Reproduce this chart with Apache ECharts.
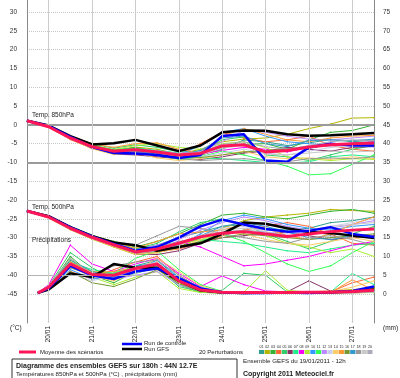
<!DOCTYPE html>
<html>
<head>
<meta charset="utf-8">
<script src="https://cdn.jsdelivr.net/npm/echarts@6/dist/echarts.min.js"></script>
<style>
html, body { margin: 0; padding: 0; background: #fff; }
#chart { width: 400px; height: 378px; }
</style>
</head>
<body>
<div id="chart"></div>
<script>
// echeances (heures depuis le run du 19/01 12h)
var HOURS = [0, 12, 24, 36, 48, 60, 72, 84, 96, 108, 120, 132, 144, 156, 168, 180, 192];
var HOURS_PRECIP = [6, 12, 24, 36, 48, 60, 72, 84, 96, 108, 120, 132, 144, 156, 168, 180, 192];
var DAY_HOURS = [12, 36, 60, 84, 108, 132, 156, 180];
var DAY_LABELS = ["20/01", "21/01", "22/01", "23/01", "24/01", "25/01", "26/01", "27/01"];
var TEMP_TICKS = [-45, -40, -35, -30, -25, -20, -15, -10, -5, 0, 5, 10, 15, 20, 25, 30];
var MM_TICKS = [0, 5, 10, 15, 20, 25, 30, 35, 40, 45, 50, 55, 60, 65, 70, 75];

var PERT_COLORS = ["#2f9f8f", "#b5b500", "#33b333", "#ff6633", "#33cc66", "#883366", "#22ee88", "#ff00ff", "#aaee33", "#3399ff",
                   "#33ff55", "#bb88ff", "#ccccee", "#ffcc66", "#ff9933", "#779933", "#3399cc", "#999999", "#c8c8c8", "#aaaabb"];

// Temp. 850hPa
var MEAN_850 = [1.1, -0.5, -3.5, -5.8, -7.0, -6.6, -7.2, -8.0, -7.6, -5.6, -5.3, -7.2, -6.8, -5.9, -5.3, -5.0, -4.8];
var CTRL_850 = [1.1, -0.3, -3.2, -5.9, -7.5, -7.6, -8.0, -8.8, -8.0, -3.0, -2.5, -9.5, -9.8, -6.0, -5.0, -5.5, -5.5];
var GFS_850 = [1.1, -0.2, -3.0, -5.2, -4.9, -4.0, -5.5, -7.0, -5.5, -2.0, -1.5, -1.6, -2.5, -2.9, -2.8, -2.5, -2.2];
var PERT_850 = [
    [1.1, -0.3, -3.2, -5.5, -7.3, -7.0, -7.8, -8.6, -8.0, -6.5, -4.0, -4.5, -5.5, -4.8, -3.9, -4.5, -4.0],
    [1.1, -0.6, -3.8, -6.0, -6.8, -5.9, -6.5, -7.8, -6.5, -4.5, -3.8, -3.5, -2.5, -1.0, 0.2, 1.8, 1.9],
    [1.1, -0.4, -3.0, -5.2, -6.9, -6.0, -7.1, -8.5, -8.2, -6.0, -5.2, -5.0, -6.5, -4.0, -2.0, -1.5, 0.0],
    [1.1, -0.7, -3.9, -6.3, -7.5, -7.2, -8.1, -8.3, -5.0, -2.0, -3.5, -4.5, -4.0, -3.0, -5.5, -6.5, -7.0],
    [1.1, -0.2, -3.1, -5.0, -6.2, -5.3, -6.0, -7.2, -7.0, -4.0, -3.2, -8.0, -8.5, -9.5, -8.0, -6.5, -5.5],
    [1.1, -0.5, -3.6, -6.2, -7.8, -8.0, -8.5, -9.0, -9.2, -8.5, -7.5, -7.0, -6.0, -6.5, -7.0, -6.0, -5.8],
    [1.1, -0.4, -3.4, -5.6, -6.5, -6.2, -6.8, -7.5, -8.8, -9.0, -9.5, -10.0, -10.2, -9.8, -8.5, -8.0, -8.5],
    [1.1, -0.6, -3.7, -6.1, -7.4, -7.3, -7.0, -8.2, -7.8, -6.8, -6.0, -6.5, -7.2, -6.0, -5.5, -5.0, -4.5],
    [1.1, -0.3, -3.3, -5.4, -6.6, -5.5, -5.0, -6.0, -6.5, -5.0, -4.5, -6.0, -8.5, -9.0, -9.5, -9.0, -9.2],
    [1.1, -0.5, -3.5, -5.9, -7.1, -6.8, -7.5, -8.0, -5.5, -2.0, -1.0, -3.0, -4.5, -5.0, -5.5, -4.8, -4.5],
    [1.1, -0.4, -3.6, -6.0, -7.6, -7.4, -8.0, -9.2, -8.5, -7.0, -8.0, -9.5, -11.0, -13.3, -13.0, -10.5, -8.0],
    [1.1, -0.6, -3.4, -5.7, -7.0, -6.4, -6.9, -7.6, -7.0, -4.5, -1.5, -2.0, -3.0, -3.8, -4.0, -3.5, -3.0],
    [1.1, -0.5, -3.5, -5.8, -7.2, -6.9, -7.4, -8.0, -8.5, -7.5, -6.5, -7.5, -8.0, -7.0, -6.0, -5.5, -6.0],
    [1.1, -0.7, -3.8, -6.4, -7.9, -7.5, -8.8, -9.5, -9.0, -8.0, -7.0, -8.5, -9.0, -8.8, -9.2, -8.5, -9.0],
    [1.1, -0.3, -3.0, -5.0, -6.0, -5.0, -4.8, -6.5, -7.5, -3.0, -1.0, -2.5, -4.0, -4.5, -3.5, -3.0, -2.8],
    [1.1, -0.4, -3.3, -5.5, -6.7, -6.3, -7.2, -8.4, -8.7, -8.0, -7.2, -6.8, -6.5, -6.0, -5.5, -5.0, -5.5],
    [1.1, -0.6, -3.7, -6.1, -7.3, -7.0, -7.6, -8.1, -6.8, -3.5, -3.0, -5.0, -5.8, -4.2, -4.0, -4.2, -3.8],
    [1.1, -0.5, -3.5, -5.9, -7.5, -7.3, -8.2, -9.0, -9.5, -9.2, -9.0, -9.5, -9.8, -9.0, -8.8, -9.0, -8.5],
    [1.1, -0.4, -3.4, -5.7, -6.9, -6.6, -7.3, -8.3, -8.0, -6.2, -5.5, -7.8, -8.0, -7.5, -7.0, -7.2, -7.0],
    [1.1, -0.6, -3.6, -6.0, -7.2, -6.7, -7.0, -7.7, -7.2, -5.2, -4.5, -5.8, -6.5, -5.5, -4.5, -4.0, -4.2]
];

// Temp. 500hPa
var MEAN_500 = [-22.9, -24.5, -27.5, -29.9, -31.9, -33.8, -33.0, -31.5, -29.8, -28.8, -28.4, -29.0, -29.7, -29.0, -28.4, -28.0, -27.7];
var CTRL_500 = [-22.9, -24.4, -27.3, -29.7, -31.7, -33.5, -32.5, -30.0, -27.0, -25.2, -26.5, -27.7, -28.4, -28.2, -27.2, -29.0, -29.8];
var GFS_500 = [-22.9, -24.3, -27.2, -29.6, -31.3, -32.0, -33.5, -32.5, -31.5, -29.0, -26.0, -26.3, -27.5, -28.5, -28.8, -29.4, -30.1];
var PERT_500 = [
    [-22.9, -24.3, -27.2, -29.5, -31.5, -33.0, -32.0, -30.0, -28.5, -27.0, -26.5, -27.5, -28.0, -27.5, -26.0, -25.5, -24.5],
    [-22.9, -24.8, -27.9, -30.4, -32.5, -34.5, -34.0, -32.5, -30.0, -27.5, -25.5, -24.5, -24.0, -23.5, -22.5, -22.8, -23.0],
    [-22.9, -24.4, -27.4, -29.6, -31.0, -32.5, -31.0, -29.0, -26.5, -24.0, -23.5, -24.5, -25.0, -24.0, -23.0, -22.5, -23.5],
    [-22.9, -24.6, -27.8, -30.2, -32.3, -34.2, -33.8, -33.0, -31.5, -29.5, -28.0, -27.0, -26.0, -27.0, -29.0, -31.5, -32.0],
    [-22.9, -24.2, -27.0, -29.3, -31.2, -33.0, -31.5, -28.5, -26.0, -25.0, -26.5, -29.0, -31.0, -33.0, -31.0, -29.0, -27.0],
    [-22.9, -24.7, -27.7, -30.1, -32.2, -34.3, -34.5, -33.5, -31.5, -30.0, -29.5, -29.0, -28.5, -29.5, -30.5, -30.0, -29.5],
    [-22.9, -24.5, -27.6, -30.0, -31.8, -33.6, -32.5, -31.0, -30.5, -31.0, -31.5, -32.5, -33.5, -34.0, -33.0, -32.0, -31.5],
    [-22.9, -24.6, -27.6, -30.0, -32.0, -34.0, -33.0, -31.0, -32.5, -35.0, -37.5, -37.0, -36.0, -35.0, -33.5, -32.0, -31.0],
    [-22.9, -24.3, -27.3, -29.7, -31.6, -33.4, -32.8, -31.8, -30.5, -29.0, -28.0, -29.5, -31.5, -32.5, -34.0, -33.0, -35.0],
    [-22.9, -24.5, -27.5, -29.8, -31.7, -33.5, -33.2, -32.0, -29.0, -25.5, -24.0, -25.0, -26.5, -27.5, -28.0, -27.0, -26.5],
    [-22.9, -24.4, -27.6, -30.1, -32.1, -34.0, -33.5, -32.5, -31.0, -29.0, -31.0, -34.0, -37.0, -39.0, -37.5, -34.0, -31.0],
    [-22.9, -24.7, -27.5, -29.9, -31.9, -33.3, -32.0, -30.5, -28.0, -26.0, -24.5, -25.5, -27.0, -28.0, -27.5, -26.5, -25.5],
    [-22.9, -24.5, -27.5, -29.9, -32.0, -33.7, -33.0, -31.5, -29.5, -27.5, -27.0, -28.5, -29.0, -28.5, -27.0, -26.0, -25.0],
    [-22.9, -24.8, -27.9, -30.3, -32.4, -34.4, -34.0, -32.8, -30.5, -28.5, -29.0, -30.5, -31.5, -32.0, -31.0, -30.0, -31.0],
    [-22.9, -24.2, -27.1, -29.4, -31.2, -32.8, -31.0, -29.0, -28.5, -28.0, -26.5, -27.5, -29.5, -30.5, -29.0, -26.5, -24.5],
    [-22.9, -24.4, -27.4, -29.8, -31.8, -33.6, -33.5, -32.5, -31.0, -30.0, -29.0, -29.5, -30.0, -30.5, -30.0, -29.5, -29.0],
    [-22.9, -24.6, -27.7, -30.0, -32.0, -33.9, -33.4, -31.8, -29.5, -27.0, -26.0, -27.0, -28.5, -30.0, -30.5, -29.5, -30.0],
    [-22.9, -24.5, -27.5, -29.9, -31.5, -32.0, -29.5, -27.0, -27.5, -29.0, -30.0, -31.0, -31.5, -30.0, -29.5, -30.5, -32.0],
    [-22.9, -24.4, -27.4, -29.6, -31.4, -33.2, -32.6, -31.2, -29.5, -28.0, -27.5, -28.0, -28.5, -28.0, -27.0, -26.5, -26.0],
    [-22.9, -24.7, -27.8, -30.2, -32.2, -34.1, -33.6, -32.0, -30.0, -28.5, -28.0, -28.5, -29.5, -29.0, -28.5, -28.0, -27.5]
];

// Precipitations (mm)
var MEAN_PRECIP = [0.3, 1.8, 8.0, 5.2, 5.0, 6.8, 8.0, 3.5, 1.1, 0.5, 0.4, 0.4, 0.4, 0.5, 0.5, 0.7, 1.0];
var CTRL_PRECIP = [0.3, 1.5, 7.5, 5.0, 4.0, 6.0, 6.8, 4.2, 1.5, 0.5, 0.3, 0.3, 0.4, 0.3, 0.5, 0.8, 2.0];
var GFS_PRECIP = [0.3, 1.2, 5.5, 4.5, 8.0, 7.0, 7.0, 3.5, 1.0, 0.4, 0.3, 0.4, 0.5, 0.4, 0.5, 0.7, 1.2];
var PERT_PRECIP = [
    [0.3, 1.5, 7.0, 5.5, 4.5, 7.5, 9.0, 4.0, 1.0, 0.3, 0.2, 0.4, 0.6, 0.3, 0.5, 0.4, 0.5],
    [0.3, 2.0, 9.0, 6.0, 5.5, 7.0, 8.5, 3.0, 0.8, 0.5, 0.3, 0.5, 0.4, 0.6, 0.8, 1.2, 1.5],
    [0.3, 1.8, 10.0, 5.0, 3.0, 6.0, 7.5, 2.5, 0.5, 0.2, 0.3, 0.3, 0.2, 0.3, 0.4, 0.5, 0.4],
    [0.3, 1.6, 6.0, 4.0, 6.5, 8.5, 10.0, 5.0, 1.5, 0.6, 0.4, 0.3, 0.5, 0.4, 0.6, 3.0, 4.5],
    [0.3, 2.2, 11.0, 7.0, 4.0, 5.5, 7.0, 2.0, 0.6, 1.0, 5.5, 5.0, 0.5, 0.4, 0.3, 0.4, 0.5],
    [0.3, 1.7, 7.5, 5.5, 5.0, 6.5, 7.0, 3.5, 1.2, 0.4, 0.3, 0.4, 0.6, 3.5, 0.8, 0.6, 0.5],
    [0.3, 1.9, 8.5, 6.5, 5.5, 7.5, 8.0, 4.5, 1.4, 0.5, 0.4, 0.5, 0.4, 0.3, 0.5, 5.5, 2.5],
    [0.3, 2.5, 13.0, 8.0, 6.0, 8.0, 9.5, 5.5, 2.0, 4.8, 2.5, 0.8, 0.6, 0.5, 0.4, 0.3, 0.5],
    [0.3, 1.4, 9.5, 4.5, 2.5, 4.5, 6.0, 1.5, 0.4, 0.3, 0.5, 6.2, 1.0, 0.5, 0.4, 0.3, 0.4],
    [0.3, 1.6, 6.5, 4.0, 4.5, 6.5, 9.0, 4.5, 1.8, 0.6, 0.4, 0.3, 0.3, 0.4, 0.6, 0.8, 1.0],
    [0.3, 1.8, 8.0, 5.0, 5.5, 9.5, 11.5, 6.5, 2.5, 0.7, 0.5, 0.4, 0.5, 0.6, 0.5, 0.5, 0.6],
    [0.3, 2.1, 7.5, 4.5, 4.0, 5.0, 6.0, 2.5, 0.8, 0.3, 0.2, 0.3, 0.4, 0.3, 0.4, 0.5, 0.6],
    [0.3, 1.5, 5.5, 3.5, 5.0, 7.0, 8.5, 4.0, 1.0, 0.4, 0.3, 0.4, 0.5, 0.4, 0.3, 0.5, 0.7],
    [0.3, 1.7, 7.0, 4.8, 3.5, 6.0, 9.5, 6.0, 2.2, 0.5, 0.4, 0.3, 0.4, 0.5, 0.7, 1.8, 3.5],
    [0.3, 2.0, 8.5, 5.8, 6.0, 7.0, 7.5, 3.0, 0.9, 0.4, 0.3, 0.4, 0.5, 0.6, 0.4, 3.8, 1.0],
    [0.3, 1.3, 6.0, 3.0, 2.0, 4.0, 6.5, 2.8, 0.7, 0.3, 0.2, 0.3, 0.3, 0.4, 0.3, 0.4, 0.5],
    [0.3, 1.9, 9.0, 6.0, 4.5, 7.5, 8.0, 4.0, 1.3, 0.5, 0.4, 0.5, 0.6, 0.5, 0.4, 0.6, 0.8],
    [0.3, 1.6, 7.0, 5.0, 7.5, 8.5, 9.0, 5.0, 1.5, 0.6, 0.5, 0.4, 0.5, 0.6, 0.5, 0.4, 0.6],
    [0.3, 1.8, 8.0, 4.5, 4.0, 5.5, 7.5, 3.5, 1.1, 0.4, 0.3, 0.3, 0.4, 0.3, 0.5, 0.6, 0.5],
    [0.3, 2.3, 9.5, 5.2, 5.0, 6.5, 8.0, 3.8, 1.0, 0.5, 0.4, 0.4, 0.5, 0.4, 0.6, 0.7, 0.8]
];

// lignes de separation des zones
var REF_LINES = [0, -10, -20, -40];

var MEAN_COLOR = "#ff1658";
var CTRL_COLOR = "#0000ff";
var GFS_COLOR = "#000000";
var TXT_FONT = "Liberation Sans";

function pairs(xs, ys) {
    var out = [];
    for (var i = 0; i < xs.length; i++) out.push([xs[i], ys[i]]);
    return out;
}

function make_line(name, xs, ys, color, width, axis, z, dots) {
    return {
        name: name,
        type: "line",
        yAxisIndex: axis,
        data: pairs(xs, ys),
        z: z,
        silent: true,
        showSymbol: dots,
        symbol: "circle",
        symbolSize: 1.6,
        itemStyle: { color: color },
        lineStyle: { color: color, width: width },
        emphasis: { disabled: true }
    };
}

var series = [];
// lignes grises de reference + verticales des jours
var ref = [];
for (var i = 0; i < REF_LINES.length; i++) {
    var w = (REF_LINES[i] == 0 || REF_LINES[i] == -10) ? 2 : 1;
    var c = w == 2 ? "#9a9a9a" : "#b4b4b4";
    ref.push({ yAxis: REF_LINES[i], lineStyle: { color: c, width: w, type: "solid" } });
}
for (i = 0; i < DAY_HOURS.length; i++) {
    ref.push({ xAxis: DAY_HOURS[i], lineStyle: { color: "#cccccc", width: 1, type: "solid" } });
}
series.push({
    type: "line", data: [], z: 1, silent: true,
    markLine: { silent: true, symbol: "none", label: { show: false }, animation: false, data: ref }
});

for (i = 0; i < 20; i++) {
    series.push(make_line("p850_" + i, HOURS, PERT_850[i], PERT_COLORS[i], 1, 0, 2, true));
    series.push(make_line("p500_" + i, HOURS, PERT_500[i], PERT_COLORS[i], 1, 0, 2, true));
    series.push(make_line("pmm_" + i, HOURS_PRECIP, PERT_PRECIP[i], PERT_COLORS[i], 1, 1, 2, true));
}
series.push(make_line("GFS 850", HOURS, GFS_850, GFS_COLOR, 2.5, 0, 3, false));
series.push(make_line("GFS 500", HOURS, GFS_500, GFS_COLOR, 2.5, 0, 3, false));
series.push(make_line("GFS mm", HOURS_PRECIP, GFS_PRECIP, GFS_COLOR, 2.5, 1, 3, false));
series.push(make_line("Ctrl 850", HOURS, CTRL_850, CTRL_COLOR, 2.5, 0, 4, false));
series.push(make_line("Ctrl 500", HOURS, CTRL_500, CTRL_COLOR, 2.5, 0, 4, false));
series.push(make_line("Ctrl mm", HOURS_PRECIP, CTRL_PRECIP, CTRL_COLOR, 2.5, 1, 4, false));
series.push(make_line("Moy 850", HOURS, MEAN_850, MEAN_COLOR, 3, 0, 5, false));
series.push(make_line("Moy 500", HOURS, MEAN_500, MEAN_COLOR, 3, 0, 5, false));
series.push(make_line("Moy mm", HOURS_PRECIP, MEAN_PRECIP, MEAN_COLOR, 3, 1, 5, false));

function txt(x, y, s, size, bold, extra) {
    var st = { x: x, y: y, text: s, fill: "#222", font: (bold ? "bold " : "") + size + "px " + TXT_FONT, textVerticalAlign: "middle" };
    if (extra) for (var k in extra) st[k] = extra[k];
    return { type: "text", silent: true, style: st, z: 20 };
}

var graphics = [
    txt(32, 115, "Temp. 850hPa", 6.5, false),
    txt(32, 207, "Temp. 500hPa", 6.5, false),
    txt(32, 240, "Précipitations", 6.5, false),
    txt(10, 328, "(°C)", 6.5, false),
    txt(383, 328, "(mm)", 6.5, false),
    { type: "line", silent: true, shape: { x1: 19, y1: 352, x2: 36, y2: 352 }, style: { stroke: MEAN_COLOR, lineWidth: 3 } },
    txt(40, 352, "Moyenne des scénarios", 6, false),
    { type: "line", silent: true, shape: { x1: 122, y1: 344, x2: 142, y2: 344 }, style: { stroke: CTRL_COLOR, lineWidth: 2.5 } },
    txt(144, 343.5, "Run de controle", 6, false),
    { type: "line", silent: true, shape: { x1: 122, y1: 349, x2: 142, y2: 349 }, style: { stroke: GFS_COLOR, lineWidth: 2.5 } },
    txt(144, 349, "Run GFS", 6, false),
    txt(199, 352, "20 Perturbations", 6, false),
    { type: "rect", silent: true, shape: { x: 12, y: 359, width: 225, height: 24 }, style: { fill: "#fff", stroke: "#333", lineWidth: 1 } },
    txt(16, 366, "Diagramme des ensembles GEFS sur 180h : 44N 12.7E", 7, true),
    txt(16, 374, "Températures 850hPa et 500hPa (°C) , précipitations (mm)", 6.2, false),
    txt(243, 361, "Ensemble GEFS du 19/01/2011 - 12h", 6.2, false),
    txt(243, 374, "Copyright 2011 Meteociel.fr", 7, true)
];
for (i = 0; i < 20; i++) {
    var sx = 259 + i * 5.7;
    graphics.push({ type: "rect", silent: true, shape: { x: sx, y: 350, width: 5.2, height: 4 }, style: { fill: PERT_COLORS[i] } });
    graphics.push(txt(sx + 2.6, 346.5, (i < 9 ? "0" : "") + (i + 1), 3.6, false, { textAlign: "center" }));
}

var chart = echarts.init(document.getElementById("chart"), null, { renderer: "canvas" });
chart.setOption({
    animation: false,
    backgroundColor: "#fff",
    grid: { left: 27, right: 26, top: 0, bottom: 55 },
    xAxis: {
        type: "value", min: 0, max: 192,
        axisLine: { show: false },
        axisTick: { show: false, customValues: DAY_HOURS },
        axisLabel: {
            customValues: DAY_HOURS, rotate: 90, margin: 3,
            fontSize: 6.5, fontFamily: TXT_FONT, color: "#222",
            formatter: function (v) {
                var idx = DAY_HOURS.indexOf(v);
                return idx >= 0 ? DAY_LABELS[idx] : "";
            }
        },
        splitLine: { show: false }
    },
    yAxis: [{
        type: "value", min: -52.7, max: 33.2,
        axisLine: { show: true, onZero: false, lineStyle: { color: "#888" } },
        axisTick: { show: false, customValues: TEMP_TICKS },
        axisLabel: { customValues: TEMP_TICKS, margin: 10, fontSize: 6.5, fontFamily: TXT_FONT, color: "#333" },
        splitLine: { show: true, lineStyle: { color: "#c8c8c8", type: [1, 1], width: 1 } }
    }, {
        type: "value", min: -7.7, max: 78.2, position: "right",
        axisLine: { show: true, onZero: false, lineStyle: { color: "#888" } },
        axisTick: { show: false, customValues: MM_TICKS },
        axisLabel: { customValues: MM_TICKS, margin: 9, fontSize: 6.5, fontFamily: TXT_FONT, color: "#333" },
        splitLine: { show: false }
    }],
    series: series,
    graphic: graphics
});
</script>
</body>
</html>
